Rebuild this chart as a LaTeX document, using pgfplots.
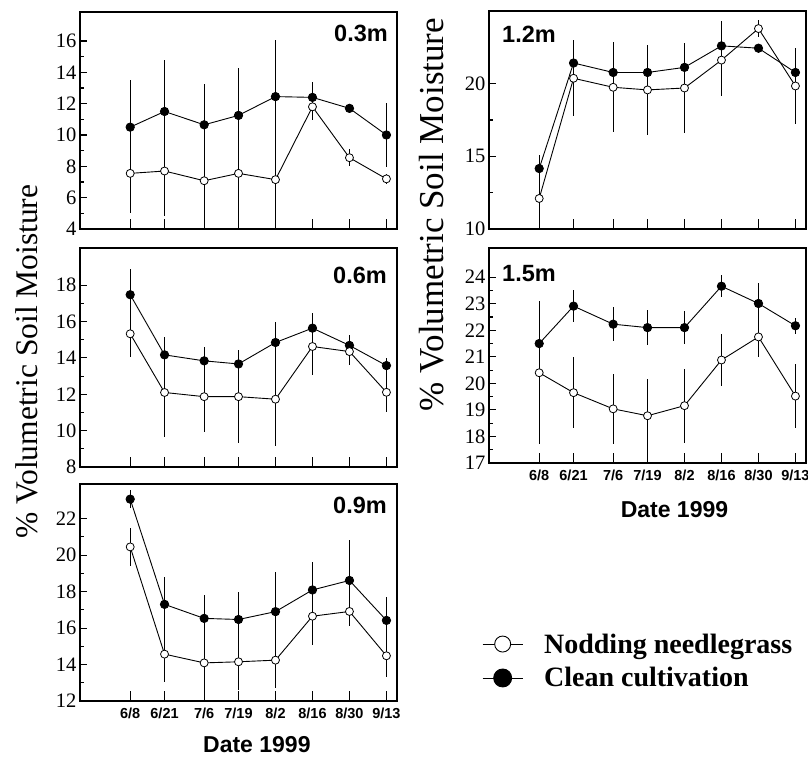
\documentclass[border=0pt]{standalone}
\usepackage{pgfplots}
\usepackage{pgfplotstable}
\pgfplotsset{compat=1.18}
\usepackage{fontspec}
\setmainfont{Liberation Serif}
\setsansfont{Liberation Sans}

% columns: day of year, clean cultivation (mean, err), nodding needlegrass (mean, err)
\pgfplotstableread{
d cc cce nn nne
159 10.50 3.00 7.55 2.50
172 11.50 3.30 7.70 2.90
187 10.65 2.60 7.08 3.05
200 11.25 3.00 7.55 3.50
214 12.45 3.60 7.15 3.10
228 12.40 1.00 11.80 0.85
242 11.70 0.30 8.55 0.55
256 10.00 2.05 7.20 0.30
}\tA
\pgfplotstableread{
d cc cce nn nne
159 17.48 1.40 15.33 1.30
172 14.17 1.00 12.10 2.44
187 13.84 0.77 11.87 1.92
200 13.67 0.74 11.87 2.57
214 14.85 1.15 11.73 2.60
228 15.64 0.83 14.63 1.56
242 14.69 0.58 14.35 0.73
256 13.58 0.41 12.11 1.06
}\tB
\pgfplotstableread{
d cc cce nn nne
159 23.07 0.50 20.45 1.06
172 17.30 1.50 14.57 1.55
187 16.53 1.30 14.09 1.60
200 16.47 1.50 14.15 1.55
214 16.90 2.15 14.24 1.50
228 18.09 1.55 16.65 1.57
242 18.61 2.20 16.91 0.80
256 16.42 1.30 14.48 1.15
}\tC
\pgfplotstableread{
d cc cce nn nne
159 14.16 0.95 12.10 2.10
172 21.42 1.60 20.37 2.60
187 20.77 2.05 19.75 3.10
200 20.77 1.90 19.57 3.07
214 21.12 1.70 19.70 3.10
228 22.60 1.70 21.62 2.50
242 22.44 0.30 23.79 0.57
256 20.77 1.60 19.84 2.60
}\tD
\pgfplotstableread{
d cc cce nn nne
159 21.50 1.57 20.40 2.69
172 22.91 0.60 19.65 1.35
187 22.23 0.65 19.04 1.33
200 22.10 0.66 18.78 1.39
214 22.10 0.63 19.16 1.40
228 23.66 0.42 20.88 0.98
242 23.01 0.78 21.75 0.77
256 22.17 0.31 19.52 1.22
}\tE

\pgfplotsset{
  panel/.style={scale only axis, width=317pt, xmin=140, xmax=260,
    xtick={159,172,187,200,214,228,242,256},
    xtick pos=left, ytick pos=left, tick align=inside,
    minor y tick num=1,
    axis line style={line width=1.3pt},
    every tick/.style={black, line width=1.1pt},
    xtick style={/pgfplots/major tick length=10pt},
    ytick style={/pgfplots/major tick length=7pt, /pgfplots/minor tick length=4pt},
    /pgf/number format/assume math mode=true,
    yticklabel style={font=\fontsize{20.5}{24}\selectfont},
    xticklabel style={font=\sffamily\bfseries\fontsize{14.5}{16}\selectfont, yshift=-3pt},
    xlabel style={font=\sffamily\bfseries\fontsize{23}{26}\selectfont},
    anchor=south west},
  toprow/.style={xticklabels={}},
  botrow/.style={xticklabels={6/8,6/21,7/6,7/19,8/2,8/16,8/30,9/13}},
  cc/.style={black, line width=0.9pt, mark=*, mark size=4.2pt,
    mark options={fill=black, line width=0.8pt},
    error bars/.cd, y dir=both, y explicit, error mark=none,
    error bar style={line width=1.2pt}},
  nn/.style={black, line width=0.9pt, mark=*, mark size=4pt,
    mark options={fill=white, line width=0.8pt},
    error bars/.cd, y dir=both, y explicit, error mark=none,
    error bar style={line width=1.2pt}},
  bigleg/.style={legend image code/.code={\draw[mark repeat=2, mark phase=2, line width=0.9pt, ##1]
     plot coordinates {(0pt,0pt) (20pt,0pt) (40pt,0pt)};}},
}

\begin{document}
\begin{tikzpicture}
\path[use as bounding box] (0,0) rectangle (808pt,757pt);

% left column
\begin{axis}[panel, toprow, at={(80pt,528pt)}, height=217pt, ymin=4, ymax=17.85, ytick={4,6,...,16}]
\addplot[cc] table[x=d, y=cc, y error=cce] {\tA};
\addplot[nn] table[x=d, y=nn, y error=nne] {\tA};
\end{axis}

\begin{axis}[panel, toprow, at={(80pt,290pt)}, height=219pt, ymin=8, ymax=20.05, ytick={8,10,...,18}]
\addplot[cc] table[x=d, y=cc, y error=cce] {\tB};
\addplot[nn] table[x=d, y=nn, y error=nne] {\tB};
\end{axis}

\begin{axis}[panel, botrow, at={(80pt,56pt)}, height=217pt, ymin=12, ymax=23.9, ytick={12,14,...,22},
  xlabel={Date 1999}, xlabel style={at={(rel axis cs:0.558,0)}, anchor=base, yshift=-52pt}]
\addplot[cc] table[x=d, y=cc, y error=cce] {\tC};
\addplot[nn] table[x=d, y=nn, y error=nne] {\tC};
\end{axis}

% right column
\begin{axis}[panel, toprow, at={(489pt,528pt)}, height=218pt, ymin=10, ymax=25, ytick={10,15,20}]
\addplot[cc] table[x=d, y=cc, y error=cce] {\tD};
\addplot[nn] table[x=d, y=nn, y error=nne] {\tD};
\end{axis}

\begin{axis}[panel, botrow, bigleg, at={(489pt,294pt)}, height=215pt, ymin=17, ymax=25.1, ytick={17,...,24},
  xlabel={Date 1999}, xlabel style={at={(rel axis cs:0.585,0)}, anchor=base, yshift=-55pt},
  legend style={draw=none, fill=none, at={(-0.022,-0.921)}, anchor=west, inner sep=0pt,
    font=\bfseries\fontsize{28}{30}\selectfont, row sep=11pt, column sep=20pt,
    nodes={inner sep=1pt}},
  legend cell align=left]
\addlegendimage{black, mark=*, mark size=8pt, mark options={fill=white, line width=0.9pt}}
\addlegendentry{Nodding needlegrass}
\addlegendimage{black, mark=*, mark size=9pt, mark options={fill=black}}
\addlegendentry{Clean cultivation}
\addplot[forget plot, cc] table[x=d, y=cc, y error=cce] {\tE};
\addplot[forget plot, nn] table[x=d, y=nn, y error=nne] {\tE};
\end{axis}

% panel labels
\begin{scope}[every node/.style={font=\sffamily\bfseries\fontsize{23.5}{26}\selectfont, inner sep=0pt}]
\node[anchor=north east] at (388pt,732pt) {0.3m};
\node[anchor=north east] at (387pt,490pt) {0.6m};
\node[anchor=north east] at (387pt,260pt) {0.9m};
\node[anchor=north west] at (502pt,731pt) {1.2m};
\node[anchor=north west] at (502pt,492pt) {1.5m};
\end{scope}

% y labels
\node[rotate=90, anchor=base, font=\fontsize{31.5}{34}\selectfont, inner sep=0pt] at (37pt,395.5pt) {\% Volumetric Soil Moisture};
\node[rotate=90, anchor=base, font=\fontsize{35}{38}\selectfont, inner sep=0pt] at (443pt,542.5pt) {\% Volumetric Soil Moisture};
\end{tikzpicture}
\end{document}
